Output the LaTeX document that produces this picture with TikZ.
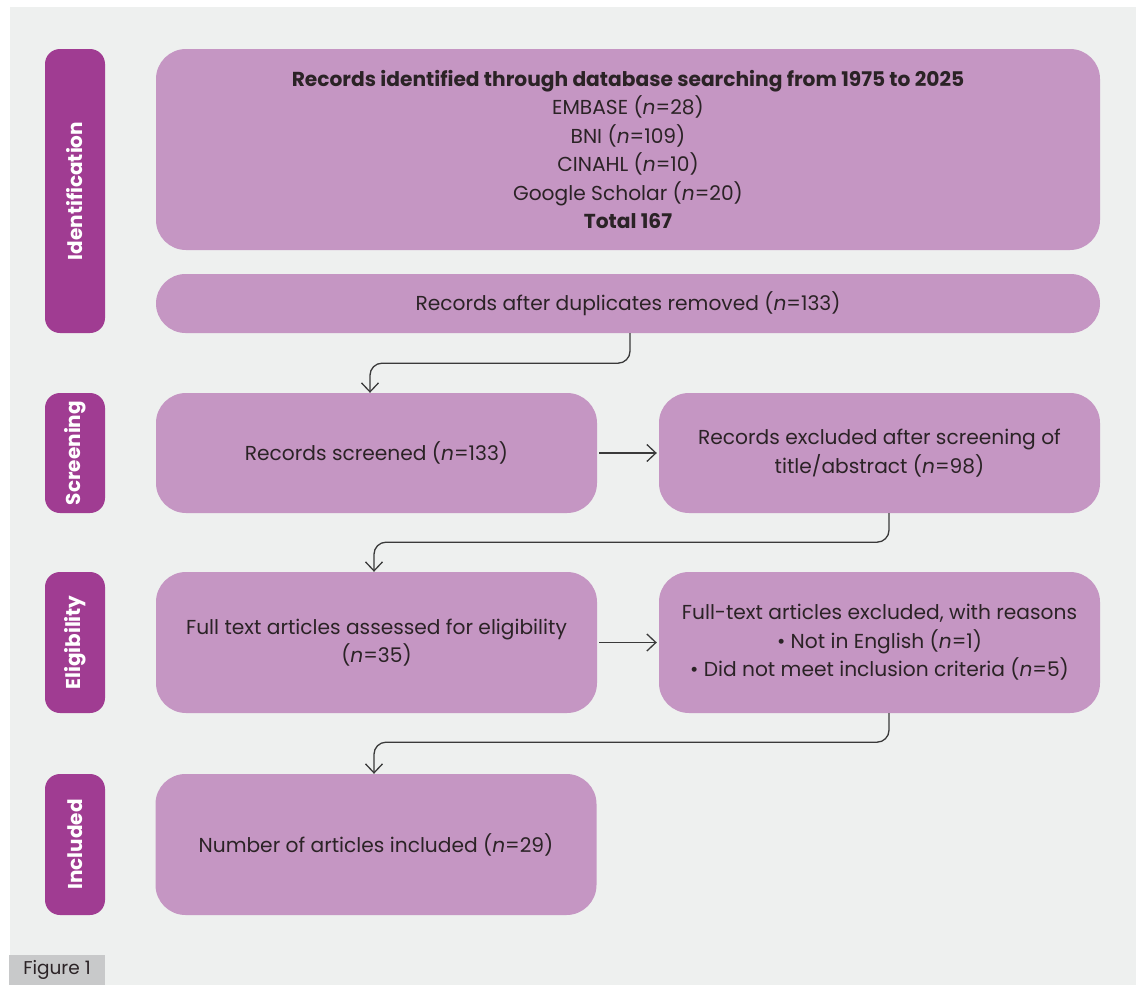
\documentclass[tikz,border=0pt]{standalone}
\usepackage{fontspec}
\setmainfont{Poppins}
\usetikzlibrary{arrows.meta}
\definecolor{panel}{HTML}{EEF0EF}
\definecolor{sidec}{HTML}{A03C92}
\definecolor{boxc}{HTML}{C596C3}
\definecolor{txt}{HTML}{2B2326}
\definecolor{arrc}{HTML}{3A3A3A}
\definecolor{figc}{HTML}{C8C9CA}
\tikzset{
  x=1pt,y=-1pt,
  sidebox/.style={fill=sidec, rounded corners=15pt, minimum width=60pt, text=white,
    font=\fontsize{20}{22}\selectfont\bfseries, rotate=90, inner sep=0pt},
  mainbox/.style={fill=boxc, rounded corners=30pt, text=txt, align=center, inner sep=0pt,
    font=\fontsize{20.2}{28.4}\selectfont},
  arr/.style={draw=arrc, line width=1.3pt, rounded corners=12pt,
    -{Straight Barb[length=9pt,width=17pt,line width=1.3pt]}},
}
\begin{document}
\begin{tikzpicture}
\useasboundingbox (0,0) rectangle (1136,985);
\fill[white] (0,0) rectangle (1136,985);
\fill[panel] (10,7) rectangle (1136,985);
% side labels
\node[sidebox, minimum width=284pt, minimum height=60pt] (sid) at (75,191) {Identification};
\node[sidebox, minimum width=120pt, minimum height=60pt] (ssc) at (75,453) {Screening};
\node[sidebox, minimum width=141pt, minimum height=60pt] (sel) at (75,642.5) {Eligibility};
\node[sidebox, minimum width=141pt, minimum height=60pt] (sin) at (75,844.5) {Included};
% main boxes
\node[mainbox, minimum width=944pt, minimum height=201pt] (b1) at (628,149.5)
  {\textbf{Records identified through database searching from 1975 to 2025}\\
   EMBASE (\textit{n}=28)\\ BNI (\textit{n}=109)\\ CINAHL (\textit{n}=10)\\
   Google Scholar (\textit{n}=20)\\ \textbf{Total 167}};
\node[mainbox, rounded corners=29.5pt, minimum width=944pt, minimum height=59pt] (b2) at (628,303.5)
  {Records after duplicates removed (\textit{n}=133)};
\node[mainbox, minimum width=441pt, minimum height=120pt] (scr) at (376.5,453)
  {Records screened (\textit{n}=133)};
\node[mainbox, minimum width=441pt, minimum height=120pt] (ex1) at (879.5,453)
  {Records excluded after screening of\\ title/abstract (\textit{n}=98)};
\node[mainbox, minimum width=441pt, minimum height=141pt] (ful) at (376.5,642.5)
  {Full text articles assessed for eligibility\\ (\textit{n}=35)};
\node[mainbox, minimum width=441pt, minimum height=141pt] (ex2) at (879.5,642.5)
  {Full-text articles excluded, with reasons\\ • Not in English (\textit{n}=1)\\
   • Did not meet inclusion criteria (\textit{n}=5)};
\node[mainbox, minimum width=441pt, minimum height=141pt] (inc) at (376,844.5)
  {Number of articles included (\textit{n}=29)};
% connectors
\draw[arr] ([xshift=2pt]b2.south) -- ++(0,30) -| ([xshift=-6.5pt]scr.north);
\draw[arr] ([xshift=9.5pt]ex1.south) -- ++(0,29) -| ([xshift=-2.5pt]ful.north);
\draw[arr] ([xshift=9.5pt]ex2.south) -- ++(0,29) -| ([xshift=-2pt]inc.north);
\draw[arr, shorten <=2pt, shorten >=2pt] (scr.east) -- (ex1.west);
\draw[arr, shorten <=2pt, shorten >=2pt] (ful.east) -- (ex2.west);
% figure label
\node[fill=figc, minimum width=96pt, minimum height=30pt, inner sep=0pt, text=txt,
  font=\fontsize{18.5}{20}\selectfont] (fig) at (57,970) {Figure 1};
\end{tikzpicture}
\end{document}
